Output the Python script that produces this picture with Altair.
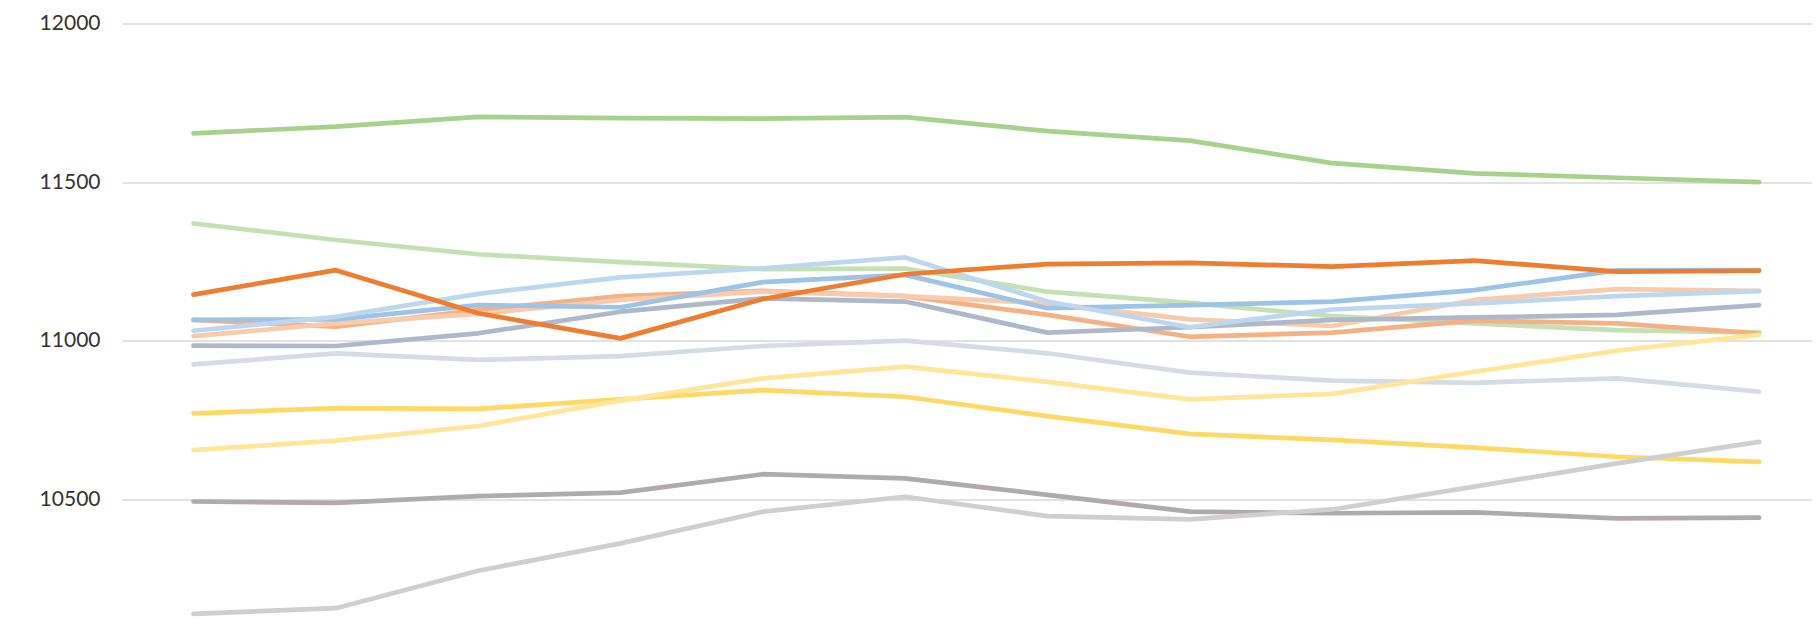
import altair as alt
import pandas as pd

periods = list(range(1, 13))

series_names = [
    "Series A", "Series B", "Series C", "Series D", "Series E", "Series F", "Series G",
    "Series H", "Series I", "Series J", "Series K", "Series L", "Series M",
]
series_colors = [
    "#A9D18E", "#C5E0B4", "#F4B183", "#F8CBAD", "#ADB9CA", "#D6DCE5", "#9DC3E6",
    "#BDD7EE", "#FFD966", "#FFE699", "#AFABAB", "#D0CECE", "#ED7D31",
]

dark_green = [11654, 11675, 11706, 11702, 11700, 11705, 11661, 11631, 11560, 11528, 11514, 11500]
light_green = [11370, 11318, 11273, 11248, 11226, 11228, 11155, 11120, 11078, 11055, 11034, 11026]
mid_orange = [11066, 11045, 11097, 11141, 11158, 11141, 11082, 11013, 11026, 11064, 11055, 11024]
peach = [11015, 11055, 11085, 11129, 11155, 11141, 11118, 11068, 11047, 11129, 11163, 11158]
blue_gray = [10985, 10984, 11024, 11092, 11134, 11124, 11026, 11043, 11066, 11074, 11082, 11113]
pale_blue_gray = [10926, 10961, 10940, 10952, 10984, 11001, 10961, 10900, 10875, 10868, 10882, 10840]
mid_blue = [11066, 11068, 11113, 11106, 11185, 11208, 11103, 11113, 11124, 11160, 11222, 11223]
light_blue = [11032, 11076, 11148, 11200, 11229, 11263, 11124, 11043, 11099, 11118, 11141, 11157]
gold = [10772, 10788, 10786, 10816, 10845, 10824, 10763, 10707, 10688, 10664, 10635, 10619]
pale_yellow = [10656, 10686, 10732, 10812, 10882, 10919, 10871, 10816, 10833, 10903, 10969, 11019]
dark_gray = [10494, 10490, 10511, 10522, 10580, 10567, 10515, 10462, 10457, 10460, 10441, 10443]
light_gray = [10140, 10158, 10276, 10362, 10462, 10509, 10448, 10438, 10469, 10541, 10614, 10682]
orange = [11146, 11223, 11087, 11008, 11132, 11210, 11242, 11246, 11234, 11253, 11218, 11221]

series_values = [
    dark_green, light_green, mid_orange, peach, blue_gray, pale_blue_gray, mid_blue,
    light_blue, gold, pale_yellow, dark_gray, light_gray, orange,
]

y_ticks = [10500, 11000, 11500, 12000]

x_scale = alt.Scale(domain=[0.4976, 12.372], nice=False, zero=False)
y_scale = alt.Scale(domain=[10116, 12000], nice=False, zero=False)
y_axis = alt.Axis(
    values=y_ticks, title=None, domain=False, ticks=False, grid=True,
    gridColor="#d9d9d9", gridWidth=1.5, labelFont="Lato", labelFontSize=21,
    labelColor="#333333", labelPadding=22, format="d",
)

layers = []
for name, color, vals in zip(series_names, series_colors, series_values):
    df = pd.DataFrame({"period": periods, "value": vals, "series": name})
    layers.append(
        alt.Chart(df)
        .mark_line(color=color, strokeWidth=4.7, strokeCap="round", strokeJoin="round")
        .encode(
            x=alt.X("period:Q", scale=x_scale, axis=None),
            y=alt.Y("value:Q", scale=y_scale, axis=y_axis),
        )
    )

chart = (
    alt.layer(*layers)
    .properties(
        width=1690,
        height=598,
        padding={"left": 114, "top": 15.5, "right": 0, "bottom": 0},
        autosize=alt.AutoSizeParams(type="none"),
        background="white",
    )
    .configure_view(stroke=None)
)

chart.save("out.html", embed_options={"renderer": "svg", "actions": False})
